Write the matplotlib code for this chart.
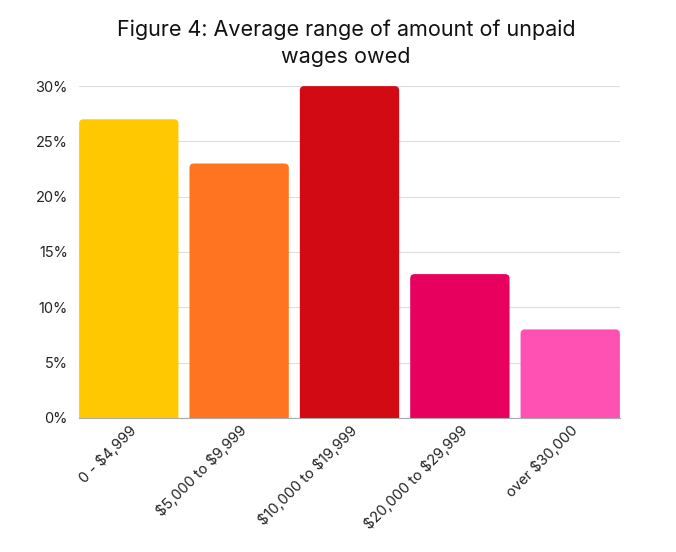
import matplotlib.pyplot as plt
from matplotlib.patches import FancyBboxPatch
from matplotlib.ticker import FuncFormatter
import matplotlib.transforms as mtransforms

plt.rcParams['font.family'] = ['Inter', 'DejaVu Sans']
plt.rcParams['text.parse_math'] = False

categories = ["0 - $4,999", "$5,000 to $9,999", "$10,000 to $19,999",
              "$20,000 to $29,999", "over $30,000"]
values = [27, 23, 30, 13, 8]
colors = ["#FFC800", "#FF7420", "#D10A14", "#E8005F", "#FF50B4"]

fig = plt.figure(figsize=(6.76, 5.52), dpi=100)
ax = fig.add_axes([0.117, 0.243, 0.800, 0.601])

x = list(range(len(categories)))
width = 0.9
ax.set_xlim(-0.45, len(categories) - 0.55)
ax.set_ylim(0, 30)

# pixels per data unit, to keep the corner radius round
bbox = ax.get_position()
px_x = bbox.width * fig.get_figwidth() * fig.dpi / 4.9
px_y = bbox.height * fig.get_figheight() * fig.dpi / 30.0
aspect = px_x / px_y

for xi, v, c in zip(x, values, colors):
    patch = FancyBboxPatch((xi - width / 2, -2), width, v + 2,
                           boxstyle="round,pad=0,rounding_size=0.04",
                           mutation_aspect=aspect,
                           facecolor=c, edgecolor="none", zorder=3)
    patch.set_clip_on(True)
    ax.add_patch(patch)

ax.set_yticks([0, 5, 10, 15, 20, 25, 30])
ax.yaxis.set_major_formatter(FuncFormatter(lambda v, p: f"{v:.0f}%"))
ax.grid(axis='y', color='#dddddd', linewidth=0.8, zorder=0)
ax.set_axisbelow(True)

ax.set_xticks(x)
ax.set_xticklabels(categories, rotation=45, ha='right', rotation_mode='anchor',
                   fontsize=10.5)
offset = mtransforms.ScaledTranslation(22 / 100, -11 / 100, fig.dpi_scale_trans)
for lbl in ax.get_xticklabels():
    lbl.set_transform(lbl.get_transform() + offset)

ax.tick_params(axis='both', length=0, labelsize=10.5, colors='#222222')
ax.tick_params(axis='y', pad=8)
for s in ['top', 'right', 'left']:
    ax.spines[s].set_visible(False)
ax.spines['bottom'].set_color('#aaaaaa')
ax.spines['bottom'].set_zorder(4)

fig.text(0.512, 0.922, "Figure 4: Average range of amount of unpaid\nwages owed",
         ha='center', va='center', fontsize=15.5, color='#111111',
         linespacing=1.45)

fig.savefig("out.png", dpi=100)
